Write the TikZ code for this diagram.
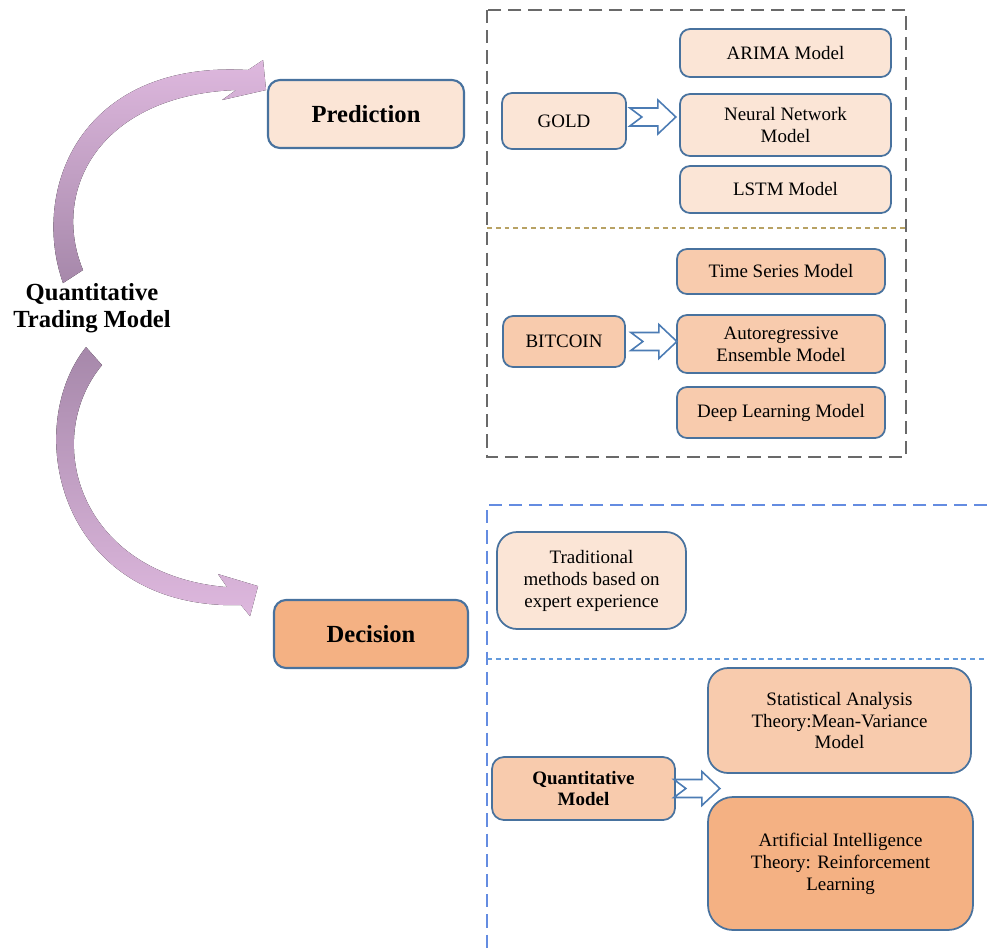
\documentclass[tikz,border=0pt]{standalone}
\usepackage{fontspec}
\setmainfont{Liberation Serif}
\usepackage{tikz}
\usetikzlibrary{positioning}
\definecolor{melocoton}{RGB}{251,229,214}
\definecolor{salmon}{RGB}{248,203,173}
\definecolor{naranja}{RGB}{244,177,131}
\definecolor{borde}{RGB}{72,114,158}
\definecolor{bordeFlecha}{RGB}{76,124,180}
\definecolor{lilaClaro}{RGB}{222,184,222}
\definecolor{lilaOscuro}{RGB}{166,136,170}
\definecolor{grisCaja}{RGB}{105,105,105}
\definecolor{oliva}{RGB}{184,162,100}
\definecolor{azulCaja}{RGB}{100,140,225}
\definecolor{azulLinea}{RGB}{100,155,220}
\newcommand{\FlechaBloque}[1]{%
  \draw[bloque] (#1) ++(0,0.18) -- ++(0.56,0) -- ++(0,0.16) -- ++(0.36,-0.34)
    -- ++(-0.36,-0.34) -- ++(0,0.16) -- ++(-0.56,0) -- ++(0.24,0.18) -- cycle;}
\tikzstyle{caja} = [rectangle,
                    rounded corners=0.2cm,
                    draw=borde,
                    line width=1pt,
                    align=center,
                    inner sep=2pt,
                    font=\fontsize{10.8}{12.5}\selectfont]
\tikzstyle{claro} = [caja, fill=melocoton]
\tikzstyle{medio} = [caja, fill=salmon]
\tikzstyle{fuerte} = [caja, fill=naranja]
\tikzstyle{principal} = [rectangle,
                         rounded corners=0.24cm,
                         draw=borde,
                         line width=1.2pt,
                         minimum width=3.92cm,
                         minimum height=1.36cm,
                         font=\fontsize{14}{16}\selectfont\bfseries]
\tikzstyle{titulo} = [align=center, font=\fontsize{14}{15.3}\selectfont\bfseries]
\tikzstyle{bloque} = [draw=bordeFlecha, fill=white, line width=0.9pt, line join=miter]
\tikzstyle{contenedorGris} = [draw=grisCaja, line width=0.8pt, dash pattern=on 7.5pt off 4pt]
\tikzstyle{divisionOliva} = [draw=oliva, line width=0.8pt, dash pattern=on 2.8pt off 2.2pt]
\tikzstyle{contenedorAzul} = [draw=azulCaja, line width=0.8pt, dash pattern=on 7.5pt off 4pt]
\tikzstyle{divisionAzul} = [draw=azulLinea, line width=0.8pt, dash pattern=on 2.8pt off 2.2pt]
\begin{document}
\begin{tikzpicture}
    \useasboundingbox (0,0) rectangle (19.74,-19.02);

    \begin{scope}[x=0.02cm, y=-0.02cm]
        \fill[top color=lilaClaro, bottom color=lilaOscuro]
            (63,283) .. controls (30,190) and (80,60) .. (248,70) -- (263,60) -- (266,90)
            -- (222,100) -- (236,90) .. controls (100,95) and (50,190) .. (83,270) -- cycle;
        \fill[top color=lilaOscuro, bottom color=lilaClaro]
            (86,347) .. controls (20,430) and (60,610) .. (241,605) -- (250,616) -- (258,586)
            -- (218,574) -- (227,587) .. controls (80,575) and (40,440) .. (102,365) -- cycle;
    \end{scope}

    \draw[contenedorGris] (9.74,-0.2) rectangle (18.12,-9.14);
    \draw[divisionOliva] (9.74,-4.56) -- (18.12,-4.56);
    \draw[contenedorAzul] (19.74,-10.1) -| (9.74,-19.02);
    \draw[divisionAzul] (9.74,-13.18) -- (19.74,-13.18);

    \node (Titulo) [titulo] at (1.84,-6.16) {Quantitative\\Trading Model};
    \node (Prediccion) [principal, fill=melocoton] at (7.32,-2.28) {Prediction};
    \node (Decision) [principal, fill=naranja, minimum width=3.88cm, node distance=10.4cm, below of=Prediccion, xshift=0.1cm] {Decision};

    \node (Gold) [claro, minimum width=2.48cm, minimum height=1.12cm] at (11.28,-2.42) {GOLD};
    \node (Arima) [claro, minimum width=4.22cm, minimum height=0.96cm] at (15.71,-1.06) {ARIMA Model};
    \node (RedNeuronal) [claro, minimum width=4.22cm, minimum height=1.24cm, node distance=1.44cm, below of=Arima] {Neural Network\\Model};
    \node (Lstm) [claro, minimum width=4.22cm, minimum height=0.94cm, node distance=1.29cm, below of=RedNeuronal] {LSTM Model};

    \node (Bitcoin) [medio, minimum width=2.44cm, minimum height=1.02cm, node distance=4.41cm, below of=Gold] {BITCOIN};
    \node (SeriesTiempo) [medio, minimum width=4.16cm, minimum height=0.9cm] at (15.62,-5.43) {Time Series Model};
    \node (Autorregresivo) [medio, minimum width=4.16cm, minimum height=1.16cm, node distance=1.45cm, below of=SeriesTiempo] {Autoregressive\\Ensemble Model};
    \node (Profundo) [medio, minimum width=4.16cm, minimum height=1.02cm, node distance=1.37cm, below of=Autorregresivo] {Deep Learning Model};

    \node (Tradicional) [claro, rounded corners=0.4cm, minimum width=3.78cm, minimum height=1.94cm] at (11.83,-11.61) {Traditional\\methods based on\\expert experience};
    \node (ModeloCuant) [medio, rounded corners=0.24cm, minimum width=3.66cm, minimum height=1.26cm, font=\fontsize{10.8}{12.5}\selectfont\bfseries] at (11.67,-15.77) {Quantitative\\Model};
    \node (Estadistico) [medio, rounded corners=0.4cm, minimum width=5.26cm, minimum height=2.1cm] at (16.79,-14.41) {Statistical Analysis\\Theory:Mean-Variance\\Model};
    \node (Inteligencia) [fuerte, rounded corners=0.5cm, minimum width=5.3cm, minimum height=2.66cm, node distance=2.86cm, below of=Estadistico, xshift=0.02cm] {Artificial Intelligence\\Theory: Reinforcement\\Learning};

    \FlechaBloque{[xshift=0.6mm, yshift=0.8mm]Gold.east}
    \FlechaBloque{[xshift=1mm]Bitcoin.east}
    \FlechaBloque{[xshift=-0.4mm]ModeloCuant.east}
\end{tikzpicture}
\end{document}
